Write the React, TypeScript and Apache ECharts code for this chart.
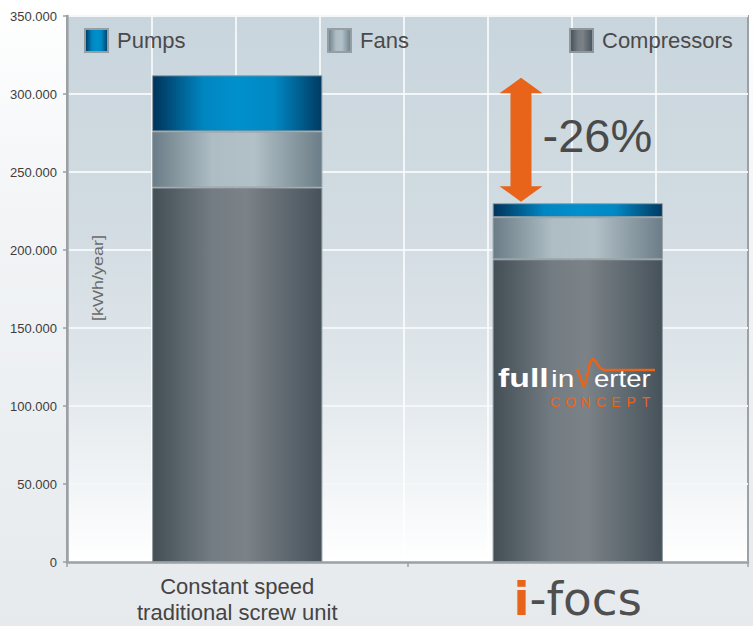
import React, { useEffect, useRef } from 'react';
import * as echarts from 'echarts';

const categories = ['Constant speed\ntraditional screw unit', 'i-focs'];
const compressors = [240000, 194000];
const fans = [36000, 27000];
const pumps = [36000, 9000];
const yTickLabels = ['0', '50.000', '100.000', '150.000', '200.000', '250.000', '300.000', '350.000'];
const seriesNames = ['Pumps', 'Fans', 'Compressors'];
const axisName = '[kWh/year]';
const conceptLetters = ['C', 'O', 'N', 'C', 'E', 'P', 'T'];

const FONT = "'Liberation Sans', Arial, sans-serif";
const ORANGE = '#e8641b';

const hGrad = (stops: [number, string][]) =>
  new echarts.graphic.LinearGradient(0, 0, 1, 0, stops.map(([offset, color]) => ({ offset, color })));

export default function App() {
  const ref = useRef<HTMLDivElement>(null);

  useEffect(() => {
    if (!ref.current) return;
    const chart = echarts.init(ref.current, null, { renderer: 'svg' });

    const totals = categories.map((_, i) => compressors[i] + fans[i] + pumps[i]);
    const change = Math.round((totals[1] / totals[0] - 1) * 100);

    const pumpsColor = hGrad([[0, '#00335a'], [0.3, '#0086c1'], [0.5, '#0090cc'], [0.72, '#0088c3'], [1, '#003a62']]);
    const fansColor = hGrad([[0, '#6a7c86'], [0.35, '#aebdc4'], [0.6, '#b2c0c7'], [1, '#6b7d87']]);
    const compColor = hGrad([[0, '#434e55'], [0.35, '#737c82'], [0.55, '#7b8288'], [1, '#46525a']]);

    const legendBase = {
      top: 28,
      padding: 0,
      itemWidth: 23,
      itemHeight: 23,
      icon: 'rect',
      selectedMode: false,
      textStyle: { fontSize: 22, color: '#4a4a4a', fontFamily: FONT, padding: [0, 0, 0, 4] },
    };

    const graphicEls: any[] = [
      {
        type: 'text', x: 98, y: 278, rotation: Math.PI / 2, scaleX: 1.2, z: 5,
        style: { text: axisName, fontSize: 15, fill: '#6a6a6a', fontFamily: FONT, align: 'center', verticalAlign: 'middle' },
      },
      {
        type: 'text', x: 498, y: 378, scaleX: 1.3, z: 20,
        style: { text: 'full', fontSize: 26, fontWeight: 'bold', fill: '#ffffff', fontFamily: FONT, align: 'left', verticalAlign: 'middle' },
      },
      {
        type: 'text', x: 551, y: 379, scaleX: 1.3, z: 20,
        style: { text: 'in', fontSize: 23, fill: '#ffffff', fontFamily: FONT, align: 'left', verticalAlign: 'middle' },
      },
      {
        type: 'text', x: 594, y: 379, scaleX: 1.2, z: 20,
        style: { text: 'erter', fontSize: 23, fill: '#ffffff', fontFamily: FONT, align: 'left', verticalAlign: 'middle' },
      },
      {
        type: 'polyline', z: 20,
        shape: { points: [[577, 369], [584, 387], [587, 377], [590, 362], [593, 359], [596, 362], [600, 368], [604, 370], [655, 370]] },
        style: { stroke: ORANGE, lineWidth: 2.5, fill: 'none', lineJoin: 'round' },
      },
      ...conceptLetters.map((ch, i) => ({
        type: 'text', x: 550 + i * 15.3, y: 401.5, z: 20,
        style: { text: ch, fontSize: 14, fill: ORANGE, fontFamily: FONT, align: 'left', verticalAlign: 'middle' },
      })),
    ];

    chart.setOption({
      animation: false,
      backgroundColor: new echarts.graphic.LinearGradient(0, 0, 0, 1, [
        { offset: 0, color: '#ffffff' },
        { offset: 0.35, color: '#f2f4f6' },
        { offset: 1, color: '#e6eaed' },
      ]),
      grid: [
        {
          left: 67, right: 5, top: 16, bottom: 64,
          show: true,
          borderColor: '#9ba1a5',
          borderWidth: 2,
          backgroundColor: new echarts.graphic.LinearGradient(0, 0, 0, 1, [
            { offset: 0, color: '#c9d5dd' },
            { offset: 0.4, color: '#d2dce2' },
            { offset: 0.7, color: '#e3e9ed' },
            { offset: 1, color: '#ffffff' },
          ]),
        },
        { left: 67.7, width: 672, top: 16, bottom: 64, show: false },
      ],
      legend: [
        { ...legendBase, left: 84, data: ['Pumps'] },
        { ...legendBase, left: 327, data: ['Fans'] },
        { ...legendBase, left: 569, data: ['Compressors'] },
      ],
      xAxis: [
        {
          type: 'category',
          gridIndex: 0,
          data: categories,
          axisLine: { lineStyle: { color: '#9ba1a5', width: 2.5 } },
          axisTick: { show: true, length: 5, lineStyle: { color: '#9ba1a5', width: 1.5 } },
          splitLine: { show: false },
          axisLabel: {
            margin: 11,
            fontSize: 22,
            lineHeight: 26,
            color: '#444444',
            fontFamily: FONT,
            formatter: (v: string, i: number) => (i === 1 ? '{o|i}{g|-focs}' : v),
            rich: {
              o: { color: ORANGE, fontSize: 47, fontWeight: 'bold', lineHeight: 50, fontFamily: "'DejaVu Sans', sans-serif" },
              g: { color: '#4f4f4f', fontSize: 47, lineHeight: 50, fontFamily: "'DejaVu Sans', sans-serif" },
            },
          },
        },
        {
          type: 'value',
          gridIndex: 1,
          min: 0,
          max: 8,
          interval: 1,
          axisLine: { show: false },
          axisTick: { show: false },
          axisLabel: { show: false },
          splitLine: { show: true, showMaxLine: false, lineStyle: { color: '#ffffff', width: 1.5 } },
        },
      ],
      yAxis: [
        {
          type: 'value',
          gridIndex: 0,
          min: 0,
          max: 350000,
          interval: 50000,
          axisLine: { show: true, lineStyle: { color: '#9ba1a5', width: 2.5 } },
          axisTick: { show: true, length: 4, lineStyle: { color: '#9ba1a5', width: 1.5 } },
          splitLine: { show: true, lineStyle: { color: '#f4f7f9', width: 2 } },
          axisLabel: {
            margin: 10,
            fontSize: 13,
            color: '#3d3d3d',
            fontFamily: FONT,
            formatter: (v: number) => yTickLabels[Math.round(v / 50000)] ?? '',
          },
        },
        {
          type: 'value',
          gridIndex: 1,
          min: 0,
          max: 1,
          show: false,
          splitLine: { show: false },
        },
      ],
      series: [
        {
          name: seriesNames[2], type: 'bar', stack: 'total', data: compressors, barWidth: '50%',
          itemStyle: { color: compColor, borderColor: '#8e979c', borderWidth: 1 },
        },
        {
          name: seriesNames[1], type: 'bar', stack: 'total', data: fans, barWidth: '50%',
          itemStyle: { color: fansColor, borderColor: '#959ea3', borderWidth: 1 },
        },
        {
          name: seriesNames[0], type: 'bar', stack: 'total', data: pumps, barWidth: '50%',
          itemStyle: { color: pumpsColor, borderColor: '#959ea3', borderWidth: 1 },
        },
        {
          type: 'custom',
          name: 'reduction',
          xAxisIndex: 0,
          yAxisIndex: 0,
          z: 10,
          silent: true,
          data: [[1, totals[0], totals[1]]],
          encode: { x: 0, y: [1, 2] },
          renderItem: (params: any, api: any) => {
            const top = api.coord([api.value(0), api.value(1)]);
            const bot = api.coord([api.value(0), api.value(2)]);
            const bw = api.size([1, 0])[0];
            const cx = top[0] - bw * 0.1667;
            const y1 = top[1] + 2.5;
            const y2 = bot[1] - 1.5;
            const hw = 21.5, hh = 15.5, sw = 10.5;
            const pts = [
              [cx, y1], [cx + hw, y1 + hh], [cx + sw, y1 + hh], [cx + sw, y2 - hh], [cx + hw, y2 - hh],
              [cx, y2], [cx - hw, y2 - hh], [cx - sw, y2 - hh], [cx - sw, y1 + hh], [cx - hw, y1 + hh],
            ];
            return {
              type: 'group',
              children: [
                { type: 'polygon', shape: { points: pts }, style: { fill: ORANGE } },
                {
                  type: 'text', x: cx + hw, y: (y1 + y2) / 2 - 4,
                  style: { text: `${change}%`, fontSize: 47, fill: '#4a4a4a', fontFamily: FONT, align: 'left', verticalAlign: 'middle' },
                },
              ],
            };
          },
        },
      ],
      graphic: graphicEls,
    });

    return () => chart.dispose();
  }, []);

  return <div ref={ref} style={{ position: 'absolute', left: 0, top: 0, width: 753, height: 626 }} />;
}
